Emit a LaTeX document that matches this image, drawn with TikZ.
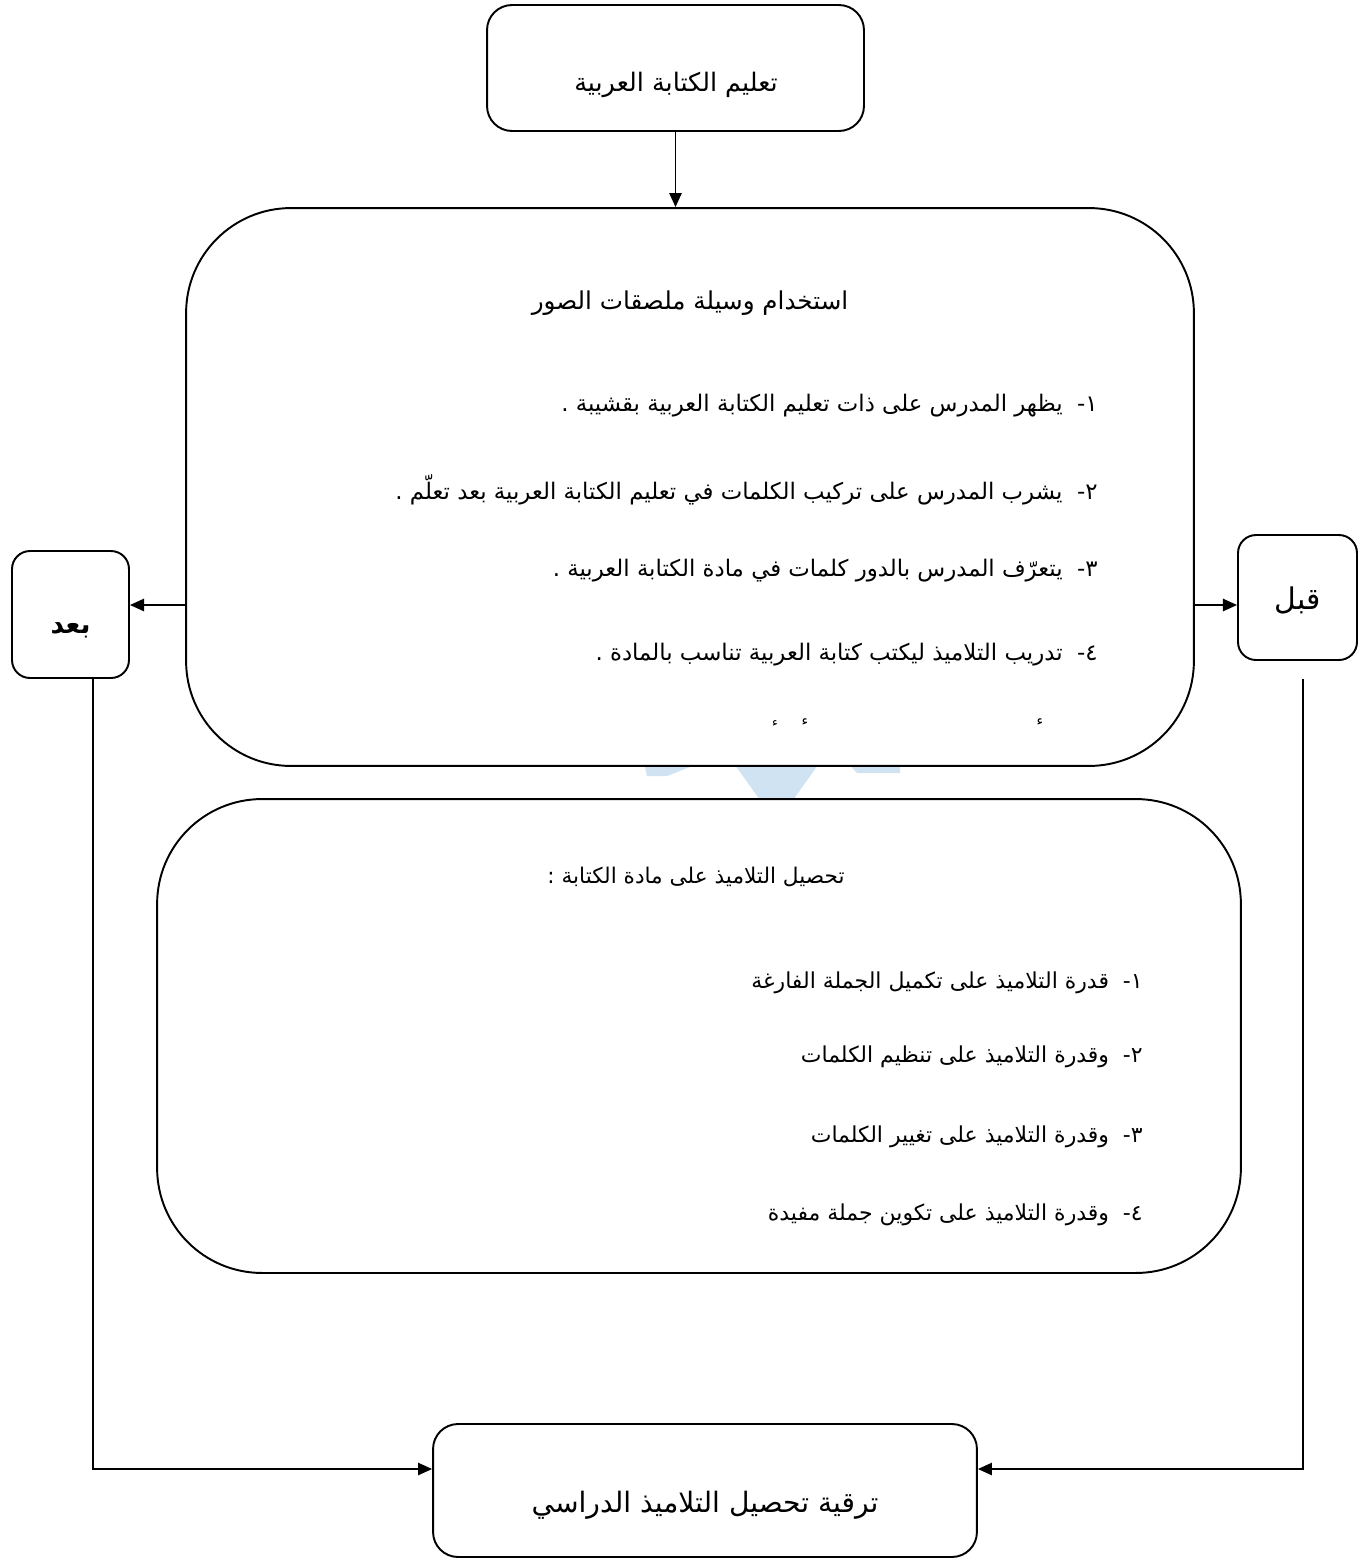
\documentclass[tikz,border=0pt]{standalone}
\usepackage{fontspec}
\usetikzlibrary{arrows.meta}
\TeXXeTstate=1
\newfontfamily\arabicfont[Script=Arabic]{DejaVu Sans}
\newcommand{\fsz}[1]{\fontsize{#1}{#1}\arabicfont}
\definecolor{wmblue}{RGB}{207,227,243}
\tikzset{
  box/.style={draw, line width=1.1pt, fill=white, inner sep=0pt},
  arr/.style={line width=1pt, -{Triangle[length=8pt,width=7pt]}},
  txt/.style={inner sep=0pt, text=black},
}
\begin{document}
\begin{tikzpicture}[x=0.02cm, y=-0.02cm]
\useasboundingbox (0,0) rectangle (1359,1560);
% watermark fragments
\fill[wmblue] (643,758) -- (713,758) -- (667,776) -- (647,776) -- cycle;
\fill[wmblue] (730,758) -- (823,758) -- (793,800) -- (760,800) -- cycle;
\fill[wmblue] (843,758) -- (900,758) -- (900,773) -- (857,773) -- cycle;
% boxes
\node[box, rounded corners=0.5cm, minimum width=7.54cm, minimum height=2.52cm] (T) at (675.5,68) {};
\node[box, rounded corners=2.1cm, minimum width=20.16cm, minimum height=11.16cm] (B1) at (690,487) {};
\node[box, rounded corners=2.1cm, minimum width=21.68cm, minimum height=9.48cm] (B2) at (699,1036) {};
\node[box, rounded corners=0.36cm, minimum width=2.34cm, minimum height=2.54cm] (A) at (70.5,614.5) {};
\node[box, rounded corners=0.36cm, minimum width=2.38cm, minimum height=2.5cm] (Q) at (1297.5,597.5) {};
\node[box, rounded corners=0.5cm, minimum width=10.88cm, minimum height=2.66cm] (F) at (705,1490.5) {};
% texts
\node[txt] (tT) at (676,85) {\fsz{14.5pt}\beginR تعليم الكتابة العربية\endR};
\node[txt] (tB1) at (690,303) {\fsz{14pt}\beginR استخدام وسيلة ملصقات الصور\endR};
\node[txt, anchor=east] (l1) at (1098,406) {\fsz{13pt}\beginR ١-\ \ يظهر المدرس على ذات تعليم الكتابة العربية بقشيبة .\endR};
\node[txt, anchor=east] (l2) at (1098,490) {\fsz{13pt}\beginR ٢-\ \ يشرب المدرس على تركيب الكلمات في تعليم الكتابة العربية بعد تعلّم .\endR};
\node[txt, anchor=east] (l3) at (1098,571) {\fsz{13pt}\beginR ٣-\ \ يتعرّف المدرس بالدور كلمات في مادة الكتابة العربية .\endR};
\node[txt, anchor=east] (l4) at (1098,655) {\fsz{13pt}\beginR ٤-\ \ تدريب التلاميذ ليكتب كتابة العربية تناسب بالمادة .\endR};
\node[txt] (h1) at (1040,722) {\fsz{8pt}ء};
\node[txt] (h2) at (805,722) {\fsz{8pt}ء};
\node[txt] (h3) at (775,724) {\fsz{7pt}ء};
\node[txt] (tB2) at (696,877) {\fsz{12.3pt}\beginR تحصيل التلاميذ على مادة الكتابة :\endR};
\node[txt, anchor=east] (m1) at (1143,983) {\fsz{12.5pt}\beginR ١-\ \ قدرة التلاميذ على تكميل الجملة الفارغة\endR};
\node[txt, anchor=east] (m2) at (1143,1057) {\fsz{12.5pt}\beginR ٢-\ \ وقدرة التلاميذ على تنظيم الكلمات\endR};
\node[txt, anchor=east] (m3) at (1143,1137) {\fsz{12.5pt}\beginR ٣-\ \ وقدرة التلاميذ على تغيير الكلمات\endR};
\node[txt, anchor=east] (m4) at (1143,1215) {\fsz{12.5pt}\beginR ٤-\ \ وقدرة التلاميذ على تكوين جملة مفيدة\endR};
\node[txt] (tA) at (70.5,630) {\bfseries\fsz{15pt}بعد};
\node[txt] (tQ) at (1297.5,600) {\fsz{17pt}قبل};
\node[txt] (tF) at (705,1505) {\fsz{16pt}\beginR ترقية تحصيل التلاميذ الدراسي\endR};
% connectors
\coordinate (mid) at (0,605);
\coordinate (low) at (0,1469);
\coordinate (Ad) at (93,0);
\coordinate (Qd) at (1303,679);
\draw[arr] (T.south) -- (T.south |- B1.north);
\draw[arr] (B1.east |- mid) -- (Q.west |- mid);
\draw[arr] (B1.west |- mid) -- (A.east |- mid);
\draw[arr] (A.south -| Ad) -- (Ad |- low) -- (F.west |- low);
\draw[arr] (Qd) -- (Qd |- low) -- (F.east |- low);
\end{tikzpicture}
\end{document}
